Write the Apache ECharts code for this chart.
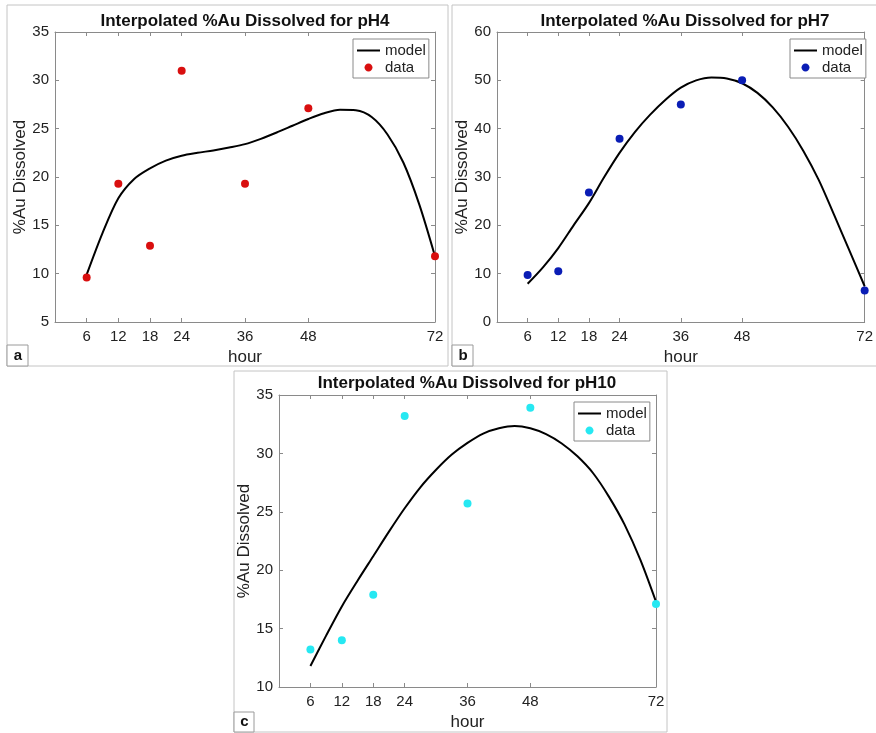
<!DOCTYPE html>
<html><head><meta charset="utf-8">
<script src="https://cdn.jsdelivr.net/npm/echarts@6/dist/echarts.min.js"></script>
<style>html,body{margin:0;padding:0;background:#fff}#c{width:876px;height:733px}</style>
</head><body><div id="c"></div>
<script>
// ---- data ----
const hours = [6, 12, 18, 24, 36, 48, 72];
const hourTicks = [6, 12, 18, 24, 36, 48, 72];
const dataPH4 = [9.6, 19.3, 12.9, 31.0, 19.3, 27.1, 11.8];
const dataPH7 = [9.7, 10.5, 26.8, 37.9, 45.0, 50.0, 6.5];
const dataPH10 = [13.2, 14.0, 17.9, 33.2, 25.7, 33.9, 17.1];
const modelHours = [6, 9, 12, 15, 18, 21, 24, 27, 30, 33, 36, 39, 42, 45, 48, 51, 54, 57, 60, 63, 66, 69, 72];
const modelPH4 = [9.9, 14.2, 17.8, 19.8, 20.9, 21.7, 22.2, 22.5, 22.75, 23.05, 23.4, 23.95, 24.6, 25.3, 26.0, 26.6, 26.95, 26.9, 26.2, 24.4, 21.5, 17.2, 11.8];
const modelPH7 = [7.9, 11.3, 15.3, 20.0, 24.6, 30.0, 35.0, 39.3, 42.9, 46.0, 48.5, 50.0, 50.6, 50.4, 49.4, 47.4, 44.4, 40.4, 35.4, 29.4, 22.2, 14.8, 7.4];
const modelPH10 = [11.8, 14.4, 16.9, 19.1, 21.2, 23.3, 25.3, 27.1, 28.6, 29.9, 30.9, 31.7, 32.15, 32.35, 32.15, 31.65, 30.85, 29.75, 28.3, 26.3, 23.9, 20.9, 17.3];
const yTicksPH4 = [5, 10, 15, 20, 25, 30, 35];
const yTicksPH7 = [0, 10, 20, 30, 40, 50, 60];
const yTicksPH10 = [10, 15, 20, 25, 30, 35];
const titles = ['Interpolated %Au Dissolved for pH4', 'Interpolated %Au Dissolved for pH7', 'Interpolated %Au Dissolved for pH10'];
const panelLetters = ['a', 'b', 'c'];
const xName = 'hour';
const yName = '%Au Dissolved';
const seriesNames = ['model', 'data'];

// ---- layout / style ----
const FONT = 'Liberation Sans, Arial, Helvetica, sans-serif';
const axisColor = '#8a8a8a';
const panels = [
  { grid: { left: 55, top: 32, width: 380, height: 290 }, frame: [7, 5, 441, 361], box: [7, 345, 21, 21], legend: [353, 39], title: [245, 21], color: '#d90f0f', model: modelPH4, data: dataPH4, yt: yTicksPH4 },
  { grid: { left: 497, top: 32, width: 375, height: 290 }, frame: [452, 5, 430, 361], box: [452, 345, 21, 21], legend: [790, 39], title: [685, 21], color: '#0a1db5', model: modelPH7, data: dataPH7, yt: yTicksPH7 },
  { grid: { left: 279, top: 395, width: 377, height: 292 }, frame: [234, 371, 433, 361], box: [234, 712, 20, 20], legend: [574, 402], title: [467, 383], color: '#26e8f2', model: modelPH10, data: dataPH10, yt: yTicksPH10 }
];

const dotIcon = 'path://M0,0M14,14M7,3C9.209,3 11,4.791 11,7C11,9.209 9.209,11 7,11C4.791,11 3,9.209 3,7C3,4.791 4.791,3 7,3Z';
const lineIcon = 'path://M0,0M23,14M0,6L23,6L23,8L0,8Z';

const grid = [], xAxis = [], yAxis = [], series = [], legend = [], graphic = [];
panels.forEach((p, i) => {
  grid.push(Object.assign({ containLabel: false }, p.grid));
  const line = { show: true, onZero: false, lineStyle: { color: axisColor, width: 1 } };
  const tick = { show: true, inside: true, length: 4, lineStyle: { color: axisColor } };
  xAxis.push({
    gridIndex: i, type: 'value', min: 0, max: 72, position: 'bottom',
    axisLine: line, axisTick: Object.assign({ customValues: hourTicks }, tick),
    axisLabel: { customValues: hourTicks, margin: 7, fontSize: 15, color: '#222', fontFamily: FONT },
    splitLine: { show: false },
    name: xName, nameLocation: 'middle', nameGap: 27,
    nameTextStyle: { fontSize: 17, color: '#222', fontFamily: FONT }
  });
  xAxis.push({
    gridIndex: i, type: 'value', min: 0, max: 72, position: 'top',
    axisLine: line, axisTick: Object.assign({ customValues: hourTicks }, tick),
    axisLabel: { show: false }, splitLine: { show: false }
  });
  const ymin = p.yt[0], ymax = p.yt[p.yt.length - 1], yint = p.yt[1] - p.yt[0];
  yAxis.push({
    gridIndex: i, type: 'value', min: ymin, max: ymax, interval: yint, position: 'left',
    axisLine: line, axisTick: tick,
    axisLabel: { margin: 6, fontSize: 15, color: '#222', fontFamily: FONT },
    splitLine: { show: false },
    name: yName, nameLocation: 'middle', nameGap: 23,
    nameTextStyle: { fontSize: 17, color: '#222', fontFamily: FONT }
  });
  yAxis.push({
    gridIndex: i, type: 'value', min: ymin, max: ymax, interval: yint, position: 'right',
    axisLine: line, axisTick: tick, axisLabel: { show: false }, splitLine: { show: false }
  });
  series.push({
    name: seriesNames[0], type: 'line', xAxisIndex: 2 * i, yAxisIndex: 2 * i,
    data: modelHours.map((h, k) => [h, p.model[k]]),
    showSymbol: false, symbol: 'none', smooth: 0.3,
    lineStyle: { color: '#000', width: 2 }, itemStyle: { color: '#000' }, z: 3
  });
  series.push({
    name: seriesNames[1], type: 'scatter', xAxisIndex: 2 * i, yAxisIndex: 2 * i,
    data: hours.map((h, k) => [h, p.data[k]]),
    symbolSize: 8, clip: false, itemStyle: { color: p.color, opacity: 1 }, z: 4
  });
  legend.push({
    left: p.legend[0], top: p.legend[1], orient: 'vertical',
    backgroundColor: '#fff', borderColor: '#8a8a8a', borderWidth: 1,
    padding: [4, 3, 3, 4], itemGap: 2, itemWidth: 23, itemHeight: 14,
    selectedMode: false,
    textStyle: { fontSize: 15, color: '#222', fontFamily: FONT },
    data: [
      { name: seriesNames[0], icon: lineIcon, itemStyle: { color: '#000' } },
      { name: seriesNames[1], icon: dotIcon, itemStyle: { color: p.color } }
    ]
  });
  graphic.push({
    type: 'rect', shape: { x: p.frame[0], y: p.frame[1], width: p.frame[2], height: p.frame[3] },
    style: { fill: 'none', stroke: '#c4c4c4', lineWidth: 1 }, z: -1
  });
  graphic.push({
    type: 'rect', shape: { x: p.box[0], y: p.box[1], width: p.box[2], height: p.box[3] },
    style: { fill: '#fff', stroke: '#9a9a9a', lineWidth: 1 }
  });
  graphic.push({
    type: 'text', x: p.box[0] + p.box[2] / 2 + 0.5, y: p.box[1] + p.box[3] / 2,
    style: { text: panelLetters[i], font: 'bold 15px ' + FONT, fill: '#111', align: 'center', verticalAlign: 'middle' }
  });
  graphic.push({
    type: 'text', x: p.title[0], y: p.title[1],
    style: { text: titles[i], font: 'bold 17px ' + FONT, fill: '#111', align: 'center', verticalAlign: 'middle' }
  });
});

const chart = echarts.init(document.getElementById('c'), null, { renderer: 'canvas' });
chart.setOption({
  animation: false,
  backgroundColor: '#fff',
  textStyle: { fontFamily: FONT },
  grid, xAxis, yAxis, series, legend, graphic
});
</script></body></html>
